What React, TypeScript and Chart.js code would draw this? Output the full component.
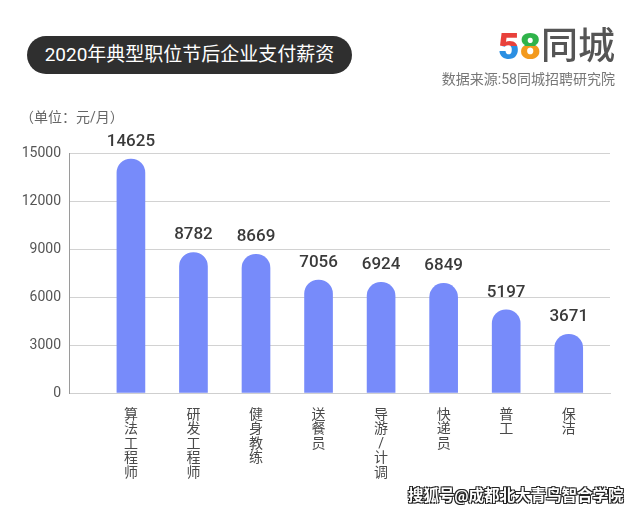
import React, { useEffect, useRef } from 'react';
import { Chart, registerables } from 'chart.js';

Chart.register(...registerables);

const jobTitles = ['算法工程师', '研发工程师', '健身教练', '送餐员', '导游/计调', '快递员', '普工', '保洁'];
const salaries = [14625, 8782, 8669, 7056, 6924, 6849, 5197, 3671];
const yTickValues = [0, 3000, 6000, 9000, 12000, 15000];

const FONT = "Roboto, 'Noto Sans CJK SC', sans-serif";

const valueLabels = {
  id: 'valueLabels',
  afterDatasetsDraw(chart: any) {
    const ctx = chart.ctx;
    const meta = chart.getDatasetMeta(0);
    ctx.save();
    ctx.font = `500 17px ${FONT}`;
    ctx.fillStyle = '#3a3a3a';
    ctx.textAlign = 'center';
    ctx.textBaseline = 'alphabetic';
    meta.data.forEach((bar: any, i: number) => {
      ctx.fillText(String(salaries[i]), bar.x, bar.y - 13);
    });
    ctx.restore();
  },
};

export default function App() {
  const canvasRef = useRef<HTMLCanvasElement | null>(null);

  useEffect(() => {
    document.body.style.margin = '0';
    const canvas = canvasRef.current;
    if (!canvas) return;
    const chart = new Chart(canvas, {
      type: 'bar',
      data: {
        datasets: [
          {
            data: salaries.map((v, i) => ({ x: i, y: v })),
            backgroundColor: '#778bfa',
            barThickness: 28,
            borderRadius: 14,
            borderSkipped: 'start',
          },
        ],
      },
      options: {
        responsive: false,
        animation: false,
        layout: { padding: { top: 153, left: 0, right: 29, bottom: 0 } },
        plugins: { legend: { display: false }, tooltip: { enabled: false } },
        scales: {
          x: {
            type: 'linear',
            offset: false,
            min: -0.99,
            max: 7.66,
            grid: { display: false, drawTicks: false },
            border: { display: true, color: '#cfcfcf', width: 1 },
            afterFit: (scale: any) => {
              scale.height = 117;
            },
            afterBuildTicks: (scale: any) => {
              scale.ticks = jobTitles.map((_, i) => ({ value: i }));
            },
            ticks: {
              autoSkip: false,
              maxRotation: 0,
              minRotation: 0,
              padding: 15,
              color: '#4a4a4a',
              font: { family: FONT, size: 14, lineHeight: '14.5px' as any },
              callback: (value: any) => {
                const t = jobTitles[Math.round(Number(value))];
                return t ? t.split('') : '';
              },
            },
          },
          y: {
            min: 0,
            max: 15000,
            afterFit: (scale: any) => {
              scale.width = 69;
            },
            afterBuildTicks: (scale: any) => {
              scale.ticks = yTickValues.map((v) => ({ value: v }));
            },
            grid: { color: '#d2d2d2', drawTicks: false, lineWidth: 1 },
            border: { display: true, color: '#9a9a9a', width: 1 },
            ticks: {
              padding: 8,
              color: '#555555',
              font: { family: FONT, size: 14 },
              callback: (value: any) => String(value),
            },
          },
        },
      },
      plugins: [valueLabels],
    } as any);
    return () => chart.destroy();
  }, []);

  return (
    <div style={{ position: 'relative', width: 639, height: 510, background: '#ffffff', fontFamily: FONT, overflow: 'hidden' }}>
      <canvas ref={canvasRef} width={639} height={510} style={{ position: 'absolute', left: 0, top: 0 }} />
      <div
        style={{
          position: 'absolute',
          left: 27,
          top: 36,
          width: 325,
          height: 38,
          borderRadius: 19,
          background: '#2f2f2f',
          color: '#ffffff',
          fontSize: 19,
          lineHeight: '38px',
          textAlign: 'center',
        }}
      >
        2020年典型职位节后企业支付薪资
      </div>
      <div style={{ position: 'absolute', right: 24, top: 24, fontSize: 37, lineHeight: '46px', color: '#555555', whiteSpace: 'nowrap', fontWeight: 500 }}>
        <span
          style={{
            background: 'linear-gradient(to bottom, #e8413b 48%, #2b8fe2 48%)',
            WebkitBackgroundClip: 'text',
            backgroundClip: 'text',
            color: 'transparent',
            fontWeight: 900,
          }}
        >
          5
        </span>
        <span
          style={{
            background: 'linear-gradient(to bottom, #2fb34a 48%, #f39a1e 48%)',
            WebkitBackgroundClip: 'text',
            backgroundClip: 'text',
            color: 'transparent',
            fontWeight: 900,
          }}
        >
          8
        </span>
        <span>同城</span>
      </div>
      <div style={{ position: 'absolute', right: 24, top: 68, fontSize: 14, color: '#777777', whiteSpace: 'nowrap' }}>
        数据来源:58同城招聘研究院
      </div>
      <div style={{ position: 'absolute', left: 20, top: 106, fontSize: 14, color: '#666666', whiteSpace: 'nowrap' }}>
        （单位：元/月）
      </div>
      <div
        style={{
          position: 'absolute',
          left: 408,
          top: 483,
          fontSize: 15.5,
          fontWeight: 700,
          color: '#ffffff',
          whiteSpace: 'nowrap',
          textShadow: '1px 1px 0 #222, -1px -1px 0 #222, 1px -1px 0 #222, -1px 1px 0 #222',
        }}
      >
        搜狐号@成都北大青鸟智合学院
      </div>
    </div>
  );
}
